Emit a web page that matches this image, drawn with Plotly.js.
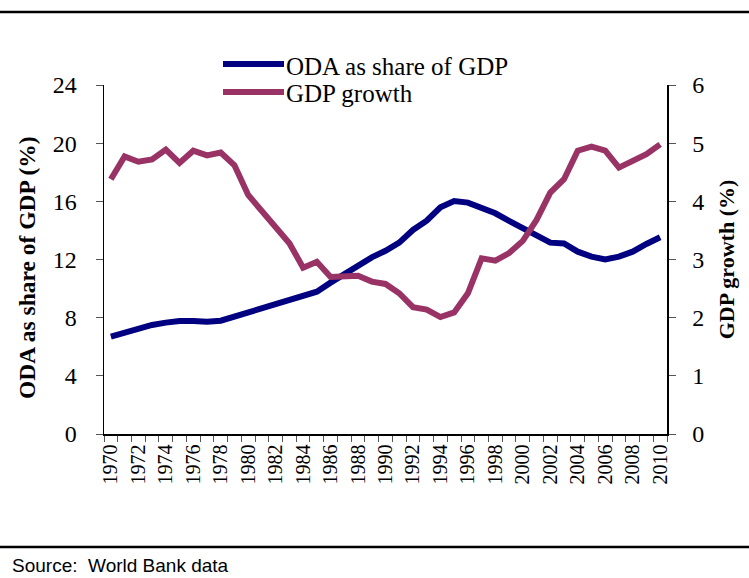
<!DOCTYPE html>
<html>
<head>
<meta charset="utf-8">
<script src="https://cdn.plot.ly/plotly-3.0.1.min.js"></script>
<style>
html,body{margin:0;padding:0;background:#fff;}
#chart{width:749px;height:578px;}
</style>
</head>
<body>
<div id="chart"></div>
<script>
const years = [1970,1971,1972,1973,1974,1975,1976,1977,1978,1979,
  1980,1981,1982,1983,1984,1985,1986,1987,1988,1989,
  1990,1991,1992,1993,1994,1995,1996,1997,1998,1999,
  2000,2001,2002,2003,2004,2005,2006,2007,2008,2009,2010];

const odaShare = [6.69,6.97,7.2,7.5,7.66,7.77,7.77,7.72,7.79,8.07,
  8.41,8.71,8.96,9.22,9.49,9.79,10.41,11.0,11.58,12.15,
  12.6,13.16,14.03,14.67,15.59,16.02,15.91,15.52,15.18,14.65,
  14.15,13.62,13.16,13.1,12.54,12.2,12.0,12.2,12.54,13.07,13.53];

const gdpGrowth = [4.38,4.77,4.68,4.72,4.89,4.66,4.87,4.79,4.84,4.62,
  4.11,3.84,3.58,3.28,2.86,2.96,2.70,2.70,2.72,2.62,
  2.58,2.42,2.18,2.14,2.01,2.09,2.42,3.02,2.98,3.11,
  3.32,3.68,4.15,4.38,4.87,4.94,4.87,4.58,4.70,4.81,4.98];

const seriesNames = ['ODA as share of GDP', 'GDP growth'];
const seriesColors = ['#000080', '#993366'];

const xTickVals = [1970,1972,1974,1976,1978,1980,1982,1984,1986,1988,1990,
  1992,1994,1996,1998,2000,2002,2004,2006,2008,2010];
const xTickText = xTickVals.map(String);
const leftTicks = [0,4,8,12,16,20,24];
const rightTicks = [0,1,2,3,4,5,6];

const serif = "'Liberation Serif', 'Times New Roman', serif";

const traces = [
  {x: years, y: odaShare, name: seriesNames[0], type: 'scatter', mode: 'lines',
   line: {color: seriesColors[0], width: 6}, yaxis: 'y'},
  {x: years, y: gdpGrowth, name: seriesNames[1], type: 'scatter', mode: 'lines',
   line: {color: seriesColors[1], width: 6}, yaxis: 'y2'}
];

const L = 104, T = 85, W = 563, H = 349;
function px(X){return (X - L)/W;}
function py(Y){return (T + H - Y)/H;}

const legendRows = [64, 92];
const legendShapes = seriesNames.map((n, i) => ({
  type: 'line', xref: 'paper', yref: 'paper',
  x0: px(223), x1: px(284), y0: py(legendRows[i]), y1: py(legendRows[i]),
  line: {color: seriesColors[i], width: 6}
}));
const legendLabels = seriesNames.map((n, i) => ({
  xref: 'paper', yref: 'paper', x: px(284), y: py(legendRows[i] + 2),
  xanchor: 'left', yanchor: 'middle', showarrow: false, text: n,
  font: {family: serif, size: 25, color: '#000'}
}));

const layout = {
  width: 749, height: 578,
  margin: {l: L, r: 749 - L - W, t: T, b: 578 - T - H, pad: 0},
  paper_bgcolor: '#fff', plot_bgcolor: '#fff',
  font: {family: serif, color: '#000'},
  showlegend: false,
  xaxis: {
    type: 'linear', range: [1969.5, 2010.5], fixedrange: true,
    tickmode: 'array', tickvals: xTickVals, ticktext: xTickText,
    tickangle: -90, ticks: '', ticklen: 0,
    tickfont: {family: serif, size: 20, color: '#000'},
    showline: true, linecolor: '#000', linewidth: 1.5,
    showgrid: false, zeroline: false,
    ticklabelstandoff: 1,
    minor: {tick0: 1969.5, dtick: 1, ticks: 'outside', ticklen: 6, tickcolor: '#555', tickwidth: 1, showgrid: false}
  },
  yaxis: {
    range: [0, 24], tickmode: 'array', tickvals: leftTicks, fixedrange: true,
    ticks: 'outside', ticklen: 7, tickcolor: '#555', tickwidth: 1,
    tickfont: {family: serif, size: 24, color: '#000'},
    ticklabelstandoff: 14,
    showline: true, linecolor: '#000', linewidth: 1.5,
    showgrid: false, zeroline: false
  },
  yaxis2: {
    range: [0, 6], tickmode: 'array', tickvals: rightTicks, fixedrange: true,
    overlaying: 'y', side: 'right',
    ticks: 'outside', ticklen: 7, tickcolor: '#555', tickwidth: 1,
    tickfont: {family: serif, size: 24, color: '#000'},
    ticklabelstandoff: 12,
    showline: true, linecolor: '#000', linewidth: 1.5,
    showgrid: false, zeroline: false,
    title: {text: '<b>GDP growth (%)</b>', font: {family: serif, size: 22, color: '#000'}, standoff: 15}
  },
  shapes: [
    {type: 'line', xref: 'paper', yref: 'paper', x0: px(0), x1: px(749), y0: py(12), y1: py(12),
     line: {color: '#000', width: 2.5}},
    {type: 'line', xref: 'paper', yref: 'paper', x0: px(0), x1: px(749), y0: py(547), y1: py(547),
     line: {color: '#000', width: 2.5}}
  ].concat(legendShapes),
  annotations: [
    {xref: 'paper', yref: 'paper', x: px(27), y: py(268), xanchor: 'center', yanchor: 'middle',
     textangle: -90, text: '<b>ODA as share of GDP (%)</b>', showarrow: false,
     font: {family: serif, size: 23.5, color: '#000'}},
    {xref: 'paper', yref: 'paper', x: px(10), y: py(565), xanchor: 'left', yanchor: 'middle',
     text: 'Source:  World Bank data', showarrow: false,
     font: {family: "'Liberation Sans', Arial, sans-serif", size: 19, color: '#000'}}
  ].concat(legendLabels)
};

Plotly.newPlot('chart', traces, layout, {displayModeBar: false, staticPlot: true});
</script>
</body>
</html>
